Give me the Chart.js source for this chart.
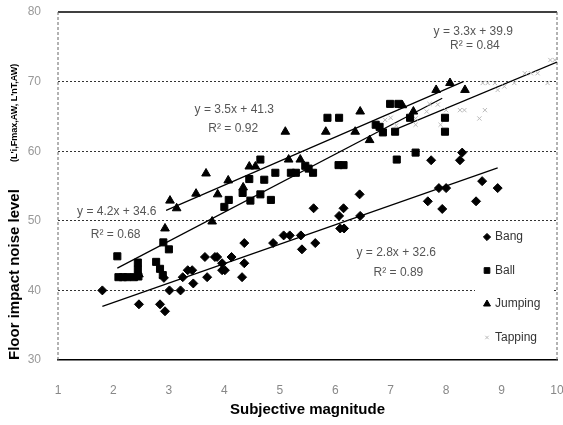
<!DOCTYPE html>
<html>
<head>
<meta charset="utf-8">
<script src="https://cdn.jsdelivr.net/npm/chart.js@4.4.0/dist/chart.umd.min.js"></script>
<style>
  html, body { margin: 0; padding: 0; background: #fff; }
  #wrap { width: 563px; height: 425px; }
</style>
</head>
<body>
<div id="wrap"><canvas id="chart" width="563" height="425"></canvas></div>
<script>
// Floor impact noise level vs subjective magnitude, four impact sources

// ── Data ────────────────────────────────────────────────────────────────────

const seriesNames = ['Bang', 'Ball', 'Jumping', 'Tapping']

const bang = [
  [1.80, 40.0], [2.46, 38.0], [2.84, 38.0], [2.93, 37.0], [2.91, 41.8], [3.01, 40.0],
  [3.21, 40.0], [3.25, 41.9], [3.34, 42.9], [3.42, 42.9], [3.44, 41.0], [3.65, 44.8],
  [3.69, 41.9], [3.83, 44.8], [3.87, 44.8], [3.96, 43.9], [3.96, 42.9], [4.01, 42.9],
  [4.13, 44.8], [4.36, 46.8], [4.36, 43.9], [4.32, 41.9], [4.88, 46.8], [5.07, 47.9],
  [5.18, 47.9], [5.38, 47.9], [5.40, 45.9], [5.64, 46.8], [5.61, 51.8], [6.07, 50.7],
  [6.15, 51.8], [6.09, 48.9], [6.16, 48.9], [6.45, 50.7], [6.44, 53.8], [7.73, 58.7],
  [8.25, 58.7], [8.29, 59.8], [7.87, 54.7], [8.00, 54.7], [7.67, 52.8], [7.93, 51.7],
  [8.65, 55.7], [8.54, 52.8], [8.93, 54.7],
]

const ball = [
  [2.07, 44.9], [2.09, 41.9], [2.17, 41.9], [2.25, 41.9], [2.37, 41.9], [2.44, 44.0],
  [2.44, 43.0], [2.45, 42.0], [2.77, 44.1], [2.84, 43.1], [2.89, 42.2], [2.90, 46.9],
  [3.00, 45.9], [4.00, 52.0], [4.08, 53.0], [4.33, 54.0], [4.45, 56.0], [4.47, 52.9],
  [4.65, 53.8], [4.65, 58.8], [4.72, 55.9], [4.84, 53.0], [4.92, 56.9], [5.20, 56.9],
  [5.29, 56.9], [5.46, 57.9], [5.52, 57.5], [5.60, 56.9], [5.86, 64.8], [6.07, 64.8],
  [6.06, 58.0], [6.15, 58.0], [6.73, 63.8], [6.80, 63.5], [6.86, 62.7], [7.08, 62.8],
  [6.99, 66.8], [7.14, 66.8], [7.35, 64.8], [7.98, 64.8], [7.98, 62.8], [7.11, 58.8],
  [7.45, 59.8],
]

const jumping = [
  [2.46, 42.3], [2.93, 48.9], [3.02, 52.9], [3.14, 51.8], [3.49, 53.9], [3.67, 56.8],
  [3.78, 49.9], [3.88, 53.8], [4.07, 55.8], [4.34, 54.8], [4.45, 57.8], [4.56, 57.8],
  [5.10, 62.8], [5.16, 58.8], [5.37, 58.8], [5.83, 62.8], [6.36, 62.8], [6.45, 65.7],
  [6.62, 61.6], [7.21, 66.6], [7.41, 65.7], [7.82, 68.8], [8.07, 69.8], [8.34, 68.8],
]

const tapping = [
  [6.90, 64.5], [7.00, 64.8], [7.10, 63.7], [7.45, 63.8], [7.45, 64.7], [7.65, 65.7],
  [7.70, 66.8], [7.85, 66.7], [7.90, 63.8], [8.00, 65.9], [8.25, 65.9], [8.33, 65.9],
  [8.60, 64.7], [8.70, 65.9], [8.66, 69.8], [8.75, 69.8], [8.88, 69.8], [8.93, 68.8],
  [9.05, 69.3], [9.23, 69.8], [9.42, 71.2], [9.53, 71.2], [9.65, 71.2], [9.83, 69.8],
  [9.88, 73.1], [9.96, 73.1],
]

// regression lines, end points as drawn
const bangFit    = [[1.80, 37.7], [8.93, 57.6]]
const ballFit    = [[2.07, 43.2], [7.93, 67.6]]
const jumpingFit = [[2.95, 51.5], [8.31, 70.0]]
const tappingFit = [[7.11, 63.2], [10.0, 72.8]]

const xTicks = [1, 2, 3, 4, 5, 6, 7, 8, 9, 10]
const yTicks = [30, 40, 50, 60, 70, 80]

// equation labels, anchored in data units
const equations = [
  { text: 'y = 3.3x + 39.9', at: [8.49, 77.1] },
  { text: 'R² = 0.84',       at: [8.52, 75.1] },
  { text: 'y = 3.5x + 41.3', at: [4.18, 65.9] },
  { text: 'R² = 0.92',       at: [4.16, 63.3] },
  { text: 'y = 4.2x + 34.6', at: [2.06, 51.3] },
  { text: 'R² = 0.68',       at: [2.04, 48.0] },
  { text: 'y = 2.8x + 32.6', at: [7.10, 45.4] },
  { text: 'R² = 0.89',       at: [7.14, 42.6] },
]

// ── Chart setup ─────────────────────────────────────────────────────────────

Chart.defaults.font.family = '"Liberation Sans", Arial, sans-serif'
Chart.defaults.font.size = 12

const toXY = (pts) => pts.map(([x, y]) => ({ x, y }))

function scatterSet(label, pts, style, radius, color) {
  return {
    type: 'scatter',
    label,
    data: toXY(pts),
    pointStyle: style,
    pointRadius: radius,
    pointHoverRadius: radius,
    backgroundColor: color,
    borderColor: color,
    borderWidth: 1,
    order: 1,
  }
}

function fitSet(pts) {
  return {
    type: 'line',
    label: '',
    data: toXY(pts),
    borderColor: '#000',
    borderWidth: 1.2,
    pointRadius: 0,
    fill: false,
    tension: 0,
    order: 2,
  }
}

const markers = [
  { style: 'rectRot',  radius: 4.5, color: '#000' },
  { style: 'rect',     radius: 5,   color: '#000' },
  { style: 'triangle', radius: 5,   color: '#000' },
  { style: 'crossRot', radius: 3,   color: '#bbb' },
]
const seriesData = [bang, ball, jumping, tapping]

// top solid edge, dashed left / right edges of the plot frame
const framePlugin = {
  id: 'frame',
  beforeDatasetsDraw(chart) {
    const { ctx, chartArea: a } = chart
    ctx.save()
    ctx.strokeStyle = '#000'
    ctx.lineWidth = 1.5
    ctx.beginPath(); ctx.moveTo(a.left, a.top); ctx.lineTo(a.right, a.top); ctx.stroke()
    ctx.strokeStyle = '#666'
    ctx.lineWidth = 1
    ctx.setLineDash([3, 2])
    ctx.beginPath(); ctx.moveTo(a.right, a.top); ctx.lineTo(a.right, a.bottom); ctx.stroke()
    ctx.beginPath(); ctx.moveTo(a.left, a.top); ctx.lineTo(a.left, a.bottom); ctx.stroke()
    ctx.restore()
  },
}

// legend box sitting inside the plot, lower right
const insideLegend = {
  id: 'insideLegend',
  afterDatasetsDraw(chart) {
    const { ctx } = chart
    ctx.save()
    ctx.fillStyle = '#fff'
    ctx.fillRect(475, 227, 78, 126)
    ctx.font = '12px "Liberation Sans", Arial, sans-serif'
    ctx.textBaseline = 'middle'
    seriesNames.forEach((name, i) => {
      const y = 237 + i * 33.5
      const m = markers[i]
      ctx.fillStyle = m.color
      ctx.strokeStyle = m.color
      ctx.lineWidth = 1
      Chart.helpers.drawPoint(ctx, { pointStyle: m.style, radius: m.radius * 0.8, borderWidth: 1, rotation: 0 }, 487, y)
      ctx.fillStyle = '#333'
      ctx.fillText(name, 495, y)
    })
    ctx.restore()
  },
}

// regression equations + y-title subscript part
const textPlugin = {
  id: 'eqText',
  afterDatasetsDraw(chart) {
    const { ctx, scales: { x, y } } = chart
    ctx.save()
    ctx.font = '12px "Liberation Sans", Arial, sans-serif'
    ctx.fillStyle = '#555'
    ctx.textAlign = 'center'
    ctx.textBaseline = 'middle'
    for (const eq of equations) {
      ctx.fillText(eq.text, x.getPixelForValue(eq.at[0]), y.getPixelForValue(eq.at[1]))
    }
    ctx.restore()
  },
  afterDraw(chart) {
    const { ctx } = chart
    ctx.save()
    ctx.translate(15, 162)
    ctx.rotate(-Math.PI / 2)
    ctx.font = 'bold 9px "Liberation Sans", Arial, sans-serif'
    ctx.fillStyle = '#000'
    ctx.textAlign = 'left'
    ctx.textBaseline = 'middle'
    ctx.fillText("(L'i,Fmax,AW, L'nT,AW)", 0, 0)
    ctx.restore()
  },
}

new Chart(document.getElementById('chart'), {
  type: 'scatter',
  data: {
    datasets: [
      ...seriesNames.map((n, i) => scatterSet(n, seriesData[i], markers[i].style, markers[i].radius, markers[i].color)),
      fitSet(bangFit),
      fitSet(ballFit),
      fitSet(jumpingFit),
      fitSet(tappingFit),
    ],
  },
  options: {
    responsive: false,
    animation: false,
    layout: { padding: { top: 12, right: 5, left: 0, bottom: 0 } },
    plugins: {
      legend: { display: false },
      tooltip: { enabled: false },
    },
    scales: {
      x: {
        type: 'linear',
        min: 1,
        max: 10,
        afterBuildTicks: (s) => { s.ticks = xTicks.map(v => ({ value: v })) },
        afterFit: (s) => { s.height = 65; s.paddingLeft = 0; s.paddingRight = 0 },
        ticks: { padding: 23, color: '#888', font: { size: 12 } },
        grid: { display: false, drawTicks: false },
        border: { display: true, color: '#000', width: 1.5 },
        title: {
          display: true,
          text: 'Subjective magnitude',
          color: '#000',
          font: { size: 15, weight: 'bold' },
          padding: { top: 0, bottom: 6 },
        },
      },
      y: {
        type: 'linear',
        min: 30,
        max: 80,
        afterBuildTicks: (s) => { s.ticks = yTicks.map(v => ({ value: v })) },
        afterFit: (s) => { s.width = 58; s.paddingTop = 0; s.paddingBottom = 0 },
        ticks: { padding: 17, color: '#999', font: { size: 12 } },
        grid: {
          drawTicks: false,
          lineWidth: 1,
          color: (c) => (c.tick && (c.tick.value === 30 || c.tick.value === 80)) ? 'rgba(0,0,0,0)' : '#333',
        },
        border: { display: false, dash: [2, 2] },
        title: {
          display: true,
          text: 'Floor impact noise level',
          align: 'start',
          color: '#000',
          font: { size: 15, weight: 'bold' },
          padding: { top: 6, bottom: 0 },
        },
      },
    },
  },
  plugins: [framePlugin, insideLegend, textPlugin],
})
</script>
</body>
</html>
